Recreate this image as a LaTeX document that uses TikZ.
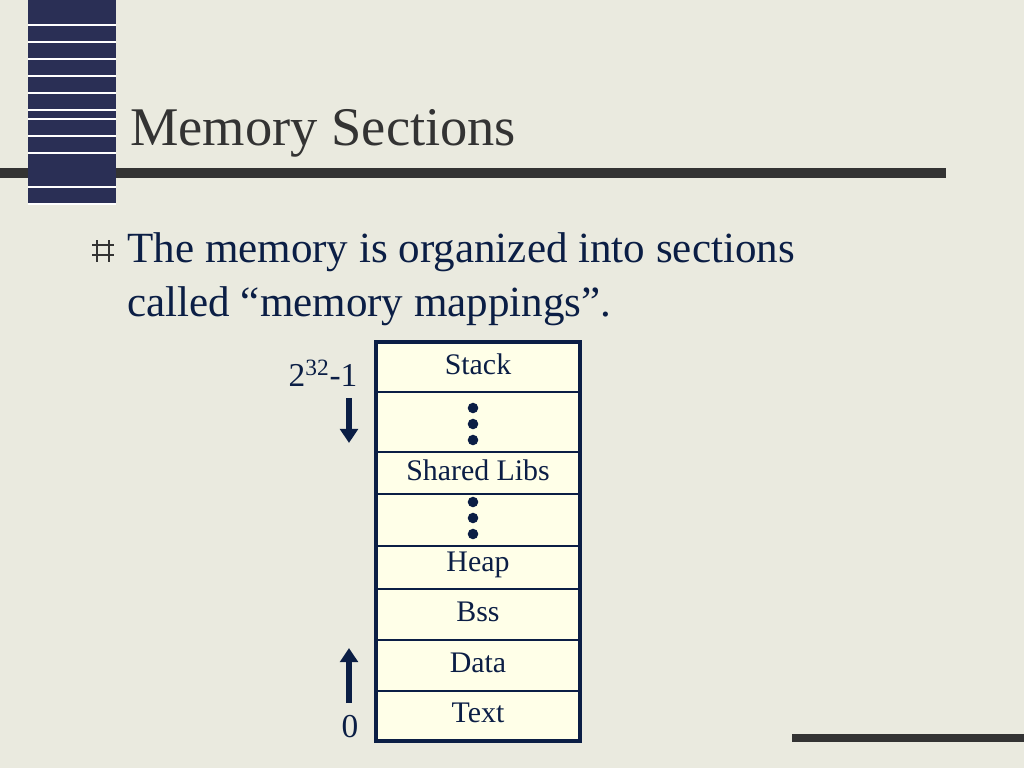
\documentclass[tikz,border=0pt]{standalone}
\usepackage{fontspec}
\setmainfont{Liberation Serif}
\usetikzlibrary{arrows.meta}
\definecolor{bgcol}{HTML}{EAEADF}
\definecolor{navy}{HTML}{0B1E45}
\definecolor{block}{HTML}{2A2F55}
\definecolor{cellcol}{HTML}{FFFFE8}
\definecolor{titlecol}{HTML}{333333}
\begin{document}
\begin{tikzpicture}[x=0.02cm,y=-0.02cm,
  cell/.style={draw=navy,line width=1pt,fill=cellcol},
  celltext/.style={font=\fontsize{17}{20}\selectfont,text=navy},
  dots/.style={fill=navy,circle,inner sep=0pt,minimum size=6pt},
  addr/.style={-{Triangle[length=8pt,width=10pt]},line width=3.5pt,navy}]

  % background and decoration
  \fill[bgcol] (0,0) rectangle (1024,768);
  \useasboundingbox (0,0) rectangle (1024,768);
  \fill[titlecol] (0,168) rectangle (946,178);
  \fill[titlecol] (792,734) rectangle (1024,742);
  \fill[block] (28,0) rectangle (116,205);
  \foreach \yy in {25,42,59,76,93,110,119,136,153,187,204}
    \draw[white,line width=0.6pt] (28,\yy) -- (116,\yy);

  % title and bullet
  \node[anchor=base west,inner sep=0pt,text=titlecol,font=\fontsize{31}{36}\selectfont] (title) at (130,145) {Memory Sections};
  \draw[titlecol,line width=1.6pt] (92,245) -- (114,245) (92,255) -- (114,255)
    (97,240) -- (97,262) (109,240) -- (109,262);
  \node[anchor=base west,inner sep=0pt,text=navy,align=left,font=\fontsize{24.5}{31}\selectfont] (bullet) at (127,262)
    {The memory is organized into sections};
  \node[anchor=base west,inner sep=0pt,text=navy,font=\fontsize{24.5}{31}\selectfont] (bullet2) at (127,316)
    {called “memory mappings”.};

  % memory cells
  \foreach \name/\ya/\yb/\lbl in {stack/342/392/Stack, gap1/392/452/, libs/452/494/Shared Libs,
      gap2/494/546/, heap/546/589/Heap, bss/589/640/Bss, data/640/691/Data, text/691/741/Text}
  {
    \draw[cell] (376,\ya) rectangle (580,\yb);
    \node[celltext] (\name) at (478,{(\ya+\yb)/2-3}) {\lbl};
  }
  \draw[navy,line width=2pt] (376,342) rectangle (580,741);
  \foreach \yy in {408,424,440,502,518,534}
    \node[dots] at (473,\yy) {};

  % address labels
  \node[text=navy,font=\fontsize{19}{22}\selectfont] (top) at (323,373) {2\textsuperscript{32}-1};
  \node[text=navy,font=\fontsize{19}{22}\selectfont] (bot) at (350,727) {0};
  \coordinate (dnA) at (349,398);
  \coordinate (dnB) at (349,443);
  \coordinate (upA) at (349,703);
  \coordinate (upB) at (349,648);
  \draw[addr] (dnA) -- (dnB);
  \draw[addr] (upA) -- (upB);
\end{tikzpicture}
\end{document}
